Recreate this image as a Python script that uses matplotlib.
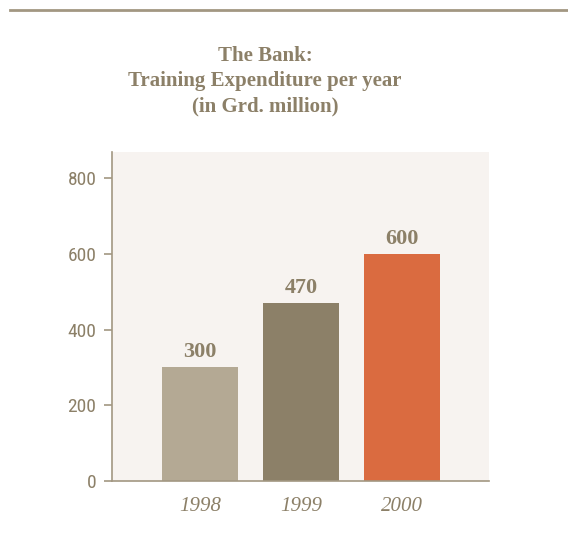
import matplotlib.pyplot as plt
from matplotlib.lines import Line2D

# data
years = ["1998", "1999", "2000"]
expenditure = [300, 470, 600]
bar_colors = ["#b4a994", "#8c8068", "#da6b40"]
y_ticks = [0, 200, 400, 600, 800]

text_color = "#8c8068"
axis_color = "#a29782"

fig = plt.figure(figsize=(5.68, 5.43), dpi=100)
fig.patch.set_facecolor("white")

# top rule
fig.add_artist(Line2D([10 / 568, 1.0], [1 - 10 / 543, 1 - 10 / 543],
                      transform=fig.transFigure, color="#a29782", lw=2))

fig.text(265 / 568, 1 - 81 / 543,
         "The Bank:\nTraining Expenditure per year\n(in Grd. million)",
         ha="center", va="center", fontsize=15, fontweight="bold",
         family="Liberation Serif", color=text_color, linespacing=1.35)

ax = fig.add_axes([111.7 / 568, 1 - 480.7 / 543, 377.3 / 568, 328.7 / 543])
ax.set_facecolor("#f7f3f0")

x = list(range(len(years)))
bars = ax.bar(x, expenditure, width=0.75, color=bar_colors, zorder=2)

for rect, val in zip(bars, expenditure):
    ax.text(rect.get_x() + rect.get_width() / 2, val + 14, str(val),
            ha="center", va="bottom", fontsize=16, fontweight="bold",
            family="Liberation Serif", color=text_color)

ax.set_xlim(-0.874, 2.861)
ax.set_ylim(0, 870)
ax.set_yticks(y_ticks)
ax.set_yticklabels([str(t) for t in y_ticks], family=["Roboto Condensed", "DejaVu Sans"],
                   fontsize=14, color=text_color)
ax.set_xticks(x)
ax.set_xticklabels(years, family="Liberation Serif", style="italic",
                   fontsize=15, color=text_color)

for side in ["top", "right"]:
    ax.spines[side].set_visible(False)
ax.spines["left"].set_color(axis_color)
ax.spines["bottom"].set_color(axis_color)
ax.spines["left"].set_linewidth(1.2)
ax.spines["bottom"].set_linewidth(1.2)
ax.tick_params(axis="y", length=6, width=1.2, color=axis_color, pad=5)
ax.tick_params(axis="x", length=0, pad=12)

fig.savefig("out.png", dpi=100, facecolor="white")
